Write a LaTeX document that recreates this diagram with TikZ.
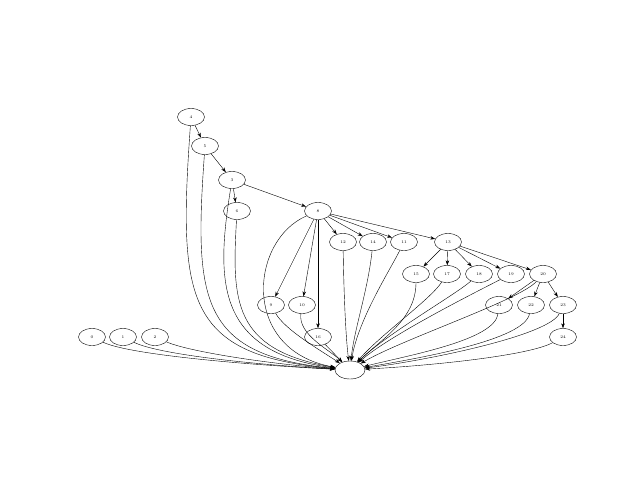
\documentclass[tikz,border=0pt]{standalone}
\usetikzlibrary{arrows.meta,shapes.geometric}
\begin{document}
\begin{tikzpicture}[x=1pt,y=-1pt,
  nd/.style={draw,ellipse,minimum width=27pt,minimum height=17pt,inner sep=0pt,font=\fontsize{4}{4}\selectfont,line width=0.4pt},
  ed/.style={-{Stealth[length=5pt,width=3.5pt]},line width=0.4pt}]
\useasboundingbox (0,0) rectangle (640,480);
\node[nd] (n4) at (191,117) {4};
\node[nd] (n5) at (205,146) {5};
\node[nd] (n3) at (232,180) {3};
\node[nd] (n6) at (237,211) {6};
\node[nd] (n8) at (318,211) {8};
\node[nd] (n12) at (343,242) {12};
\node[nd] (n14) at (373,242) {14};
\node[nd] (n11) at (404,242) {11};
\node[nd] (n13) at (448,242) {13};
\node[nd] (n15) at (416,274) {15};
\node[nd] (n17) at (447,274) {17};
\node[nd] (n18) at (479,274) {18};
\node[nd] (n19) at (511,274) {19};
\node[nd] (n20) at (543,274) {20};
\node[nd] (n9) at (271,305) {9};
\node[nd] (n10) at (302,305) {10};
\node[nd] (n21) at (499,305) {21};
\node[nd] (n22) at (531,305) {22};
\node[nd] (n23) at (563,305) {23};
\node[nd] (n16) at (318,337) {16};
\node[nd] (n24) at (563,337) {24};
\node[nd] (n0) at (92,337) {0};
\node[nd] (n1) at (123,337) {1};
\node[nd] (n2) at (155,337) {2};
\node[nd,minimum width=30pt,minimum height=18pt] (s) at (350,370) {};
% tree edges
\draw[ed] (n4) -- (n5);
\draw[ed] (n5) -- (n3);
\draw[ed] (n3) -- (n6);
\draw[ed] (n3) -- (n8);
\draw[ed] (n8) -- (n12);
\draw[ed] (n8) -- (n14);
\draw[ed] (n8) -- (n11);
\draw[ed] (n8) -- (n13);
\draw[ed] (n8) -- (n9);
\draw[ed] (n8) -- (n10);
\draw[ed] (n8) -- (n16);
\draw[ed] (n13) -- (n15);
\draw[ed] (n13) -- (n17);
\draw[ed] (n13) -- (n18);
\draw[ed] (n13) -- (n19);
\draw[ed] (n13) -- (n20);
\draw[ed] (n20) -- (n21);
\draw[ed] (n20) -- (n22);
\draw[ed] (n20) -- (n23);
\draw[ed] (n23) -- (n24);
% edges to sink
\draw[ed] (n4) .. controls (178,300) and (185,355) .. (s);
\draw[ed] (n5) .. controls (194,300) and (200,355) .. (s);
\draw[ed] (n3) .. controls (216,280) and (215,352) .. (s);
\draw[ed] (n6) .. controls (232,300) and (232,350) .. (s);
\draw[ed] (n8) .. controls (250,240) and (240,350) .. (s);
\draw[ed] (n9) .. controls (285,330) and (320,350) .. (s);
\draw[ed] (n10) .. controls (298,335) and (330,350) .. (s);
\draw[ed] (n16) -- (s);
\draw[ed] (n12) .. controls (344,300) and (346,340) .. (s);
\draw[ed] (n14) .. controls (368,290) and (354,330) .. (s);
\draw[ed] (n11) .. controls (390,270) and (358,320) .. (s);
\draw[ed] (n15) .. controls (416,320) and (380,340) .. (s);
\draw[ed] (n17) .. controls (430,300) and (380,335) .. (s);
\draw[ed] (n18) .. controls (455,295) and (385,335) .. (s);
\draw[ed] (n19) .. controls (480,290) and (390,335) .. (s);
\draw[ed] (n20) .. controls (520,300) and (400,340) .. (s);
\draw[ed] (n21) .. controls (495,340) and (410,355) .. (s);
\draw[ed] (n22) .. controls (525,340) and (420,358) .. (s);
\draw[ed] (n23) .. controls (550,335) and (430,360) .. (s);
\draw[ed] (n24) .. controls (530,355) and (440,365) .. (s);
\draw[ed] (n0) .. controls (130,355) and (250,365) .. (s);
\draw[ed] (n1) .. controls (160,355) and (260,365) .. (s);
\draw[ed] (n2) .. controls (190,352) and (270,364) .. (s);
\end{tikzpicture}
\end{document}
